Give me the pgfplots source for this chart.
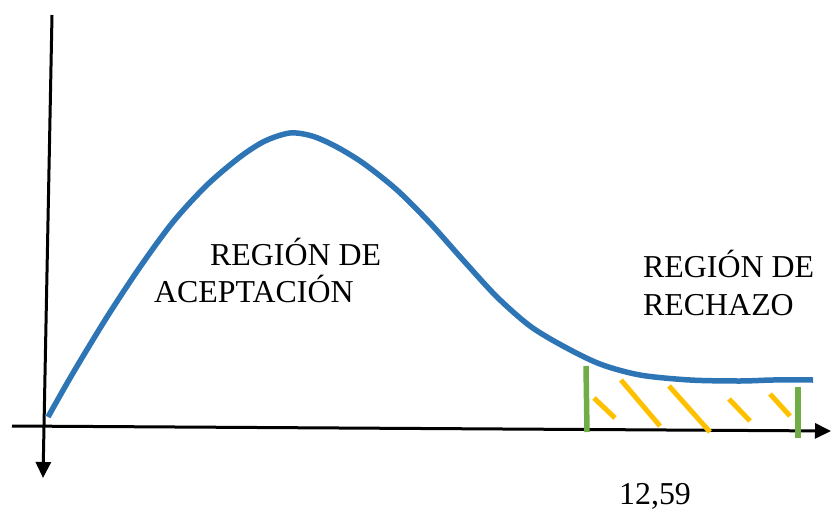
\documentclass[border=0pt]{standalone}
\usepackage{fontspec}
\setmainfont{Liberation Serif}
\usepackage{pgfplots}
\pgfplotsset{compat=1.18}
\usetikzlibrary{arrows.meta}

\definecolor{curveblue}{HTML}{2E75B6}
\definecolor{bargreen}{HTML}{70AD47}
\definecolor{hatchorange}{HTML}{FFC000}

\begin{document}
\begin{tikzpicture}
\begin{axis}[
  width=833bp, height=512bp,
  scale only axis,
  xmin=0, xmax=833,
  ymin=0, ymax=512,
  y dir=reverse,
  hide axis,
  clip=false,
]
% frame for the page size
\addplot[draw=none] coordinates {(0,0) (833,512)};

% axes
\addplot[black, line width=3bp, -{Triangle[width=15bp,length=16bp]}]
  coordinates {(12,426) (831,431)};
\addplot[black, line width=3bp, -{Triangle[width=15bp,length=16bp]}]
  coordinates {(52,15) (43,478)};

% density curve
\addplot[curveblue, line width=5.5bp, smooth, tension=0.5] coordinates {
  (48,417) (73,373) (107,317) (140,267) (173,222) (207,185) (240,157)
  (265,141) (290,133) (312,136) (335,146) (363,163) (397,190) (430,223)
  (463,260) (497,297) (530,326) (563,346) (600,364) (640,375) (690,380)
  (740,381) (773,380) (813,380)
};

% rejection region limits
\addplot[bargreen, line width=5.5bp] coordinates {(586,366) (587,432)};
\addplot[bargreen, line width=5.5bp] coordinates {(798,387) (798,438)};

% hatching
\addplot[hatchorange, line width=5bp] coordinates {(594,398) (615,418)};
\addplot[hatchorange, line width=5bp] coordinates {(621,380) (660,426)};
\addplot[hatchorange, line width=5bp] coordinates {(669,386) (710,432)};
\addplot[hatchorange, line width=5bp] coordinates {(729,399) (750,421)};
\addplot[hatchorange, line width=5bp] coordinates {(770,394) (790,416)};

% labels
\node[anchor=base west, inner sep=0pt, font=\fontsize{32}{38}\selectfont]
  at (axis cs:210,265) {REGIÓN DE};
\node[anchor=base west, inner sep=0pt, font=\fontsize{32}{38}\selectfont]
  at (axis cs:154,302) {ACEPTACIÓN};
\node[anchor=base west, inner sep=0pt, font=\fontsize{32}{38}\selectfont]
  at (axis cs:643,277) {REGIÓN DE};
\node[anchor=base west, inner sep=0pt, font=\fontsize{32}{38}\selectfont]
  at (axis cs:643,315) {RECHAZO};
\node[anchor=base west, inner sep=0pt, font=\fontsize{32}{38}\selectfont]
  at (axis cs:619,504) {12,59};
\end{axis}
\end{tikzpicture}
\end{document}
